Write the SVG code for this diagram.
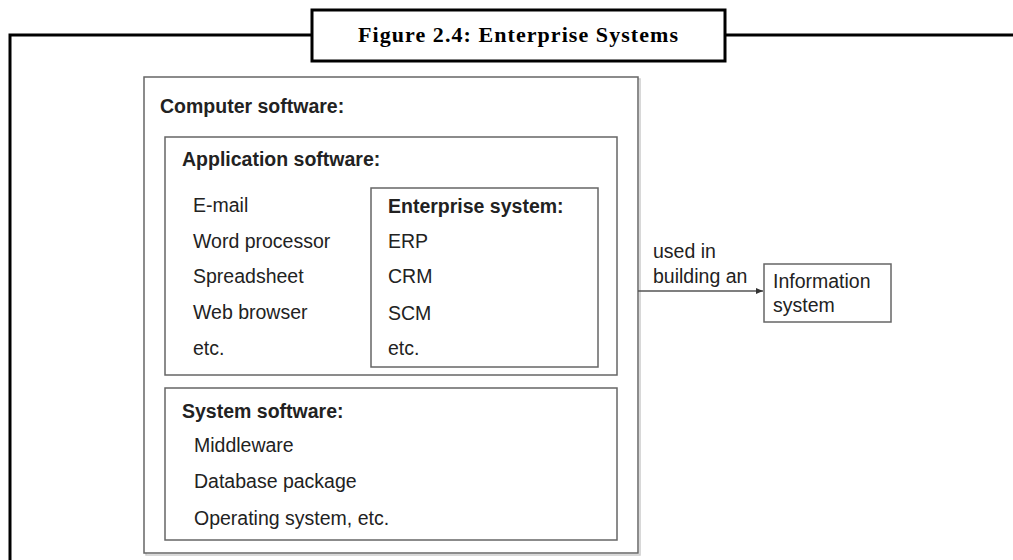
<svg xmlns="http://www.w3.org/2000/svg" width="1013" height="560" viewBox="0 0 1013 560">
<defs>
<style>
.frame{fill:none;stroke:#000;stroke-width:3}
.box{fill:#fff;stroke:#666;stroke-width:1.5}
.t{font-family:"Liberation Sans",Arial,sans-serif;font-size:19.5px;fill:#222}
.b{font-weight:bold}
.title{font-family:"Liberation Serif","Times New Roman",serif;font-size:22px;font-weight:bold;fill:#000}
.conn{stroke:#555;stroke-width:1.5;fill:none}
</style>
<marker id="arr" markerWidth="8" markerHeight="8" refX="7" refY="4" orient="auto" markerUnits="userSpaceOnUse">
<path d="M0,1 L7,4 L0,7 Z" fill="#333"/>
</marker>
</defs>
<rect width="1013" height="560" fill="#fff"/>
<g id="frame">
<path class="frame" d="M10,560 V35 H312 M725,35 H1013"/>
<rect class="frame" x="312" y="10" width="413" height="51" fill="#fff"/>
<text class="title" x="358" y="42" textLength="320" lengthAdjust="spacing">Figure 2.4: Enterprise Systems</text>
</g>
<g id="computer-software">
<rect x="146" y="79" width="494" height="476" fill="none" stroke="#ccc" stroke-width="1.5"/>
<rect class="box" x="144" y="77" width="494" height="476"/>
<text class="t b" x="160" y="113">Computer software:</text>
</g>
<g id="application-software">
<rect class="box" x="165" y="137" width="452" height="238"/>
<text class="t b" x="182" y="166">Application software:</text>
<text class="t" x="193" y="212">E-mail</text>
<text class="t" x="193" y="248">Word processor</text>
<text class="t" x="193" y="283">Spreadsheet</text>
<text class="t" x="193" y="319">Web browser</text>
<text class="t" x="193" y="355">etc.</text>
</g>
<g id="enterprise-system">
<rect class="box" x="371" y="188" width="227" height="179"/>
<text class="t b" x="388" y="213">Enterprise system:</text>
<text class="t" x="388" y="248">ERP</text>
<text class="t" x="388" y="283">CRM</text>
<text class="t" x="388" y="320">SCM</text>
<text class="t" x="388" y="355">etc.</text>
</g>
<g id="system-software">
<rect class="box" x="165" y="388" width="452" height="152"/>
<text class="t b" x="182" y="418">System software:</text>
<text class="t" x="194" y="452">Middleware</text>
<text class="t" x="194" y="488">Database package</text>
<text class="t" x="194" y="525">Operating system, etc.</text>
</g>
<g id="information-system">
<rect class="box" x="764" y="264" width="127" height="58"/>
<text class="t" x="773" y="288">Information</text>
<text class="t" x="773" y="312">system</text>
</g>
<g id="connectors">
<line class="conn" x1="638" y1="291" x2="763" y2="291" marker-end="url(#arr)"/>
<text class="t" x="653" y="258">used in</text>
<text class="t" x="653" y="283">building an</text>
</g>
</svg>
